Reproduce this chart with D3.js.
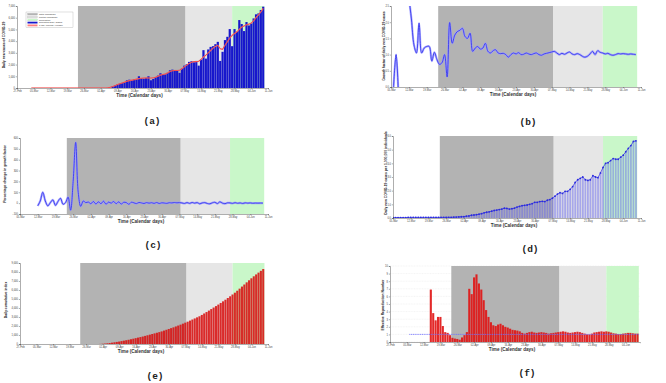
<!DOCTYPE html>
<html>
<head>
<meta charset="utf-8">
<script src="https://cdn.jsdelivr.net/npm/d3@7"></script>
<style>
  body { margin: 0; background: #fff; }
  svg { display: block; font-family: "Liberation Sans", Arial, sans-serif; }
</style>
</head>
<body>
<svg id="chart" width="666" height="383"></svg>
<script>
// day 0 of every series
var startDate = new Date(2020, 1, 27);

var tickLabels = ["27-Feb", "05-Mar", "12-Mar", "19-Mar", "26-Mar", "02-Apr", "09-Apr", "16-Apr",
  "23-Apr", "30-Apr", "07-May", "14-May", "21-May", "28-May", "04-Jun", "11-Jun"];

// phase boundaries, in days after startDate
var phaseNames = ["Total Lockdown", "Partial Lockdown", "Relaxation"];
var phaseBounds = [25.5, 70.5, 90, 103.5];

// (a) reported daily cases, from day 40
var casesStart = 40;
var dailyCases = [140, 200, 310, 370, 430, 510, 660, 710, 660, 710, 770, 1000, 830, 800, 860, 1000,
  660, 770, 940, 1060, 1260, 1170, 1170, 1290, 1510, 1570, 1510, 1460, 1290, 1660, 1910, 2030,
  2230, 2290, 2200, 2310, 1910, 2430, 3230, 2510, 3290, 3510, 3570, 3740, 3940, 2310, 3090, 4090,
  4370, 5030, 3570, 5030, 4800, 5800, 5460, 4860, 5630, 5340, 5510, 5940, 6290, 6370, 6660, 6940];

// (a) 7-day moving average, from day 6
var avgStart = 6;
var movingAvg = [0, 0, 0, 0, 0, 0, 0, 0, 0, 0, 0, 0, 0, 0, 0, 0, 0, 0, 0, 0, 0, 0, 0, 0, 0, 0, 0, 0, 0, 0, 0, 0,
  20, 60, 120, 200, 290, 360, 430, 500, 570, 630, 670, 710, 760, 800, 830, 850, 860, 860, 850, 870,
  920, 1010, 1100, 1150, 1200, 1290, 1400, 1470, 1500, 1500, 1520, 1650, 1800, 1950, 2100, 2200,
  2250, 2250, 2280, 2450, 2650, 2800, 3000, 3200, 3400, 3550, 3650, 3350, 3300, 3650, 3950, 4250,
  4500, 4650, 4800, 5000, 5200, 5300, 5400, 5450, 5550, 5750, 6000, 6250, 6500, 6800];

// (b) growth factor, from day 8
var growthStart = 8;
var growthFactor = [0.0, 1.0, -0.4, null, null, 3.8, 2.8, 2.1, 1.3, 1.05, 1.97, 1.05, 1.2, 1.25, 1.25,
  0.8, 1.07, 0.85, 0.7, 0.75, 1.0, 0.31, 1.99, 1.35, 1.6, 1.71, 1.75, 1.81, 1.56, 1.5, 1.66, 1.1,
  1.2, 1.25, 1.17, 1.2, 1.35, 1.1, 1.05, 1.12, 1.15, 1.05, 1.03, 1.04, 1.0, 0.92, 1.0, 1.05, 1.02,
  1.06, 1.0, 1.01, 1.05, 1.02, 1.0, 1.03, 1.05, 1.0, 0.98, 1.02, 1.04, 1.06, 1.08, 1.1, 1.05, 1.0,
  1.04, 1.01, 1.05, 1.08, 1.02, 1.0, 1.03, 1.0, 0.95, 0.92, 0.95, 1.02, 1.1, 1.0, 1.12, 1.07, 1.05,
  1.02, 1.04, 1.0, 0.98, 1.0, 1.03, 1.02, 1.03, 1.02, 1.01, 1.02, 1.01, 1.0];

// (c) percentage change in growth factor, from day 14
var pctStart = 14;
var pctChange = [-25, 20, 100, 20, -25, 5, 30, -20, 15, 45, -10, 5, 55, -65, 200, 560, 100, -30, 20, 5,
  10, -5, 15, -8, 12, -5, 18, -10, 10, 0, 15, -5, 12, -8, 8, 5, -10, 8, 3, -4, 6, 2, -3, 5, 0,
  4, -2, 6, -3, 3, 1, -2, 4, 2, 6, 3, 5, 2, -3, 5, -2, 6, 0, 5, -6, 2, 5, -3, -6, 3,
  8, -4, 12, 0, -5, 3, 2, -2, 4, -1, 2, -3, 3, 0, 2, -1, 1, 0, 1, 0];

// (d) daily new cases per 1,000,000, from day 7
var perMillionStart = 7;
var perMillion = [0.03, 0.03, 0.03, 0.03, 0.03, 0.03, 0.04, 0.04, 0.04, 0.04, 0.04, 0.04, 0.04, 0.04,
  0.04, 0.04, 0.04, 0.04, 0.04, 0.04, 0.04, 0.05, 0.05, 0.05,
  0.06, 0.07, 0.08, 0.09, 0.1, 0.13, 0.15, 0.2, 0.22, 0.24, 0.28, 0.32, 0.38, 0.42, 0.45, 0.5, 0.55,
  0.58, 0.62, 0.65, 0.72, 0.7, 0.65, 0.68, 0.72, 0.8, 0.85, 0.9, 0.93, 0.95, 1.0, 1.05, 1.15, 1.15,
  1.2, 1.22, 1.2, 1.3, 1.35, 1.45, 1.6, 1.75, 1.85, 1.8, 1.95, 1.95, 2.1, 2.3, 2.6, 2.8, 2.9, 3.0,
  2.8, 2.75, 2.8, 3.1, 3.0, 2.95, 3.3, 3.7, 4.0, 4.05, 4.2, 4.35, 4.3, 4.3, 4.45, 4.6, 4.85, 5.1,
  5.3, 5.6, 5.65];

// (e) daily cumulative index, from day 34
var cumStart = 34;
var cumulative = [10, 30, 50, 80, 110, 150, 190, 230, 270, 320, 370, 420, 470, 530, 590, 650, 710, 770,
  830, 900, 970, 1040, 1110, 1180, 1250, 1320, 1400, 1490, 1580, 1670, 1760, 1850, 1950, 2050,
  2150, 2260, 2370, 2480, 2600, 2720, 2840, 2960, 3080, 3230, 3390, 3550, 3710, 3880, 4050, 4210,
  4380, 4560, 4740, 4920, 5110, 5300, 5500, 5700, 5920, 6150, 6380, 6610, 6850, 7080, 7300, 7520,
  7730, 7930, 8130, 8330];

// (f) effective reproduction number, from day 17
var rtStart = 17;
var rt = [6.9, 3.8, 2.85, 3.3, 3.3, 2.1, 1.3, 1.2, 0.9, 0.55, 0.45, 0.4, 0.3, 0.6, 0.9, 1.3, 7.0, 6.3,
  8.5, 8.9, 7.7, 6.9, 5.5, 4.2, 3.3, 2.6, 2.2, 2.1, 2.3, 2.4, 2.2, 2.0, 1.9, 1.75, 1.6, 1.55, 1.5,
  1.4, 1.2, 1.1, 1.2, 1.3, 1.35, 1.25, 1.2, 1.25, 1.3, 1.25, 1.2, 1.1, 1.15, 1.2, 1.25, 1.3, 1.35,
  1.4, 1.35, 1.25, 1.2, 1.25, 1.3, 1.35, 1.3, 1.2, 1.1, 1.0, 1.0, 1.1, 1.25, 1.3, 1.35, 1.4, 1.35,
  1.4, 1.35, 1.25, 1.15, 1.1, 1.05, 1.05, 1.1, 1.15, 1.2, 1.2, 1.15, 1.1, 1.1];
var rtThreshold = 1;
var rtThresholdFrom = 8;

var yTicksA = [0, 1000, 2000, 3000, 4000, 5000, 6000, 7000];
var yTicksB = [0, 0.5, 1, 1.5, 2, 2.5];
var yTicksC = [-100, 0, 100, 200, 300, 400, 500, 600];
var yTicksD = [0, 1, 2, 3, 4, 5, 6];
var yTicksE = [0, 1000, 2000, 3000, 4000, 5000, 6000, 7000, 8000, 9000];
var yTicksF = [0, 1, 2, 3, 4, 5, 6, 7, 8, 9, 10];

var phaseColors = ["#b3b3b3", "#e6e6e6", "#c9f7c9"];

var svg = d3.select("#chart");
var parseTick = d3.timeParse("%d-%b-%Y");
var tickDates = tickLabels.map(function(t) { return parseTick(t + "-2020"); });

function dayDate(n) { return d3.timeHour.offset(startDate, Math.round(n * 24)); }

function toPoints(first, values) {
  return values.map(function(v, i) { return {day: first + i, v: v}; });
}

// draws frame, phases and axes for one panel and returns its scales
function panel(p) {
  var x = d3.scaleTime().domain([dayDate(p.d0), dayDate(p.d1)]).range([p.left, p.right]);
  var y = d3.scaleLinear().domain([p.yTicks[0], p.yTicks[p.yTicks.length - 1]]).range([p.bottom, p.top]);
  var g = svg.append("g");

  svg.append("clipPath").attr("id", "clip-" + p.id)
    .append("rect")
    .attr("x", p.left).attr("y", p.top)
    .attr("width", p.right - p.left).attr("height", p.bottom - p.top);

  if (p.grid) {
    g.selectAll(".grid").data(p.yTicks).enter().append("line")
      .attr("x1", p.left).attr("x2", p.right)
      .attr("y1", function(d) { return y(d); }).attr("y2", function(d) { return y(d); })
      .attr("stroke", "#e4e4e4").attr("stroke-width", 0.4).attr("stroke-dasharray", "1,0.6");
  }

  g.selectAll(".phase").data(phaseColors).enter().append("rect")
    .attr("x", function(d, i) { return x(dayDate(phaseBounds[i])); })
    .attr("y", p.top)
    .attr("width", function(d, i) { return x(dayDate(phaseBounds[i + 1])) - x(dayDate(phaseBounds[i])); })
    .attr("height", p.bottom - p.top)
    .attr("fill", function(d) { return d; });

  var marks = svg.append("g").attr("clip-path", "url(#clip-" + p.id + ")");

  var ticks = tickDates.filter(function(d) { return d >= x.domain()[0] && d <= x.domain()[1]; });
  var ax = svg.append("g")
    .attr("transform", "translate(0," + p.bottom + ")")
    .call(d3.axisBottom(x).tickValues(ticks).tickFormat(d3.timeFormat("%d-%b")).tickSize(1.2).tickPadding(0.6));
  var ay = svg.append("g")
    .attr("transform", "translate(" + p.left + ",0)")
    .call(d3.axisLeft(y).tickValues(p.yTicks).tickSize(1.2).tickPadding(0.8));
  [ax, ay].forEach(function(a) {
    a.attr("font-size", 2.6).attr("font-family", "Liberation Sans, Arial, sans-serif");
    a.selectAll("path, line").attr("stroke", "#333").attr("stroke-width", 0.4);
    a.selectAll("text").attr("fill", "#444");
  });

  svg.append("text")
    .attr("x", (p.left + p.right) / 2 - 3).attr("y", p.bottom + 8.6)
    .attr("text-anchor", "middle").attr("font-size", 4.6).attr("font-weight", "bold").attr("fill", "#333")
    .text("Time (Calendar days)");

  svg.append("text")
    .attr("transform", "translate(" + p.ylabX + "," + p.ylabY + ") rotate(-90)")
    .attr("text-anchor", "middle").attr("font-size", 3.4).attr("font-weight", "bold").attr("fill", "#222")
    .text(p.ylab);

  svg.append("text")
    .attr("x", p.capX).attr("y", p.capY)
    .attr("text-anchor", "middle")
    .attr("font-family", "Liberation Mono, DejaVu Sans Mono, monospace")
    .attr("font-size", 9.5).attr("font-weight", "bold").attr("fill", "#222")
    .text("(" + p.id + ")");

  return {x: x, y: y, marks: marks};
}

function drawBars(s, pts, fill, opacity, gap) {
  s.marks.append("g").selectAll("rect").data(pts).enter().append("rect")
    .attr("x", function(d) { return s.x(dayDate(d.day - 0.5 + gap / 2)); })
    .attr("width", function(d) { return s.x(dayDate(d.day + 0.5)) - s.x(dayDate(d.day - 0.5)) - (s.x(dayDate(gap)) - s.x(dayDate(0))); })
    .attr("y", function(d) { return s.y(Math.max(0, d.v)); })
    .attr("height", function(d) { return Math.abs(s.y(0) - s.y(d.v)); })
    .attr("fill", fill).attr("fill-opacity", opacity);
}

function drawLine(s, pts, color, width, curve) {
  var line = d3.line()
    .defined(function(d) { return d.v != null; })
    .x(function(d) { return s.x(dayDate(d.day)); })
    .y(function(d) { return s.y(d.v); })
    .curve(curve || d3.curveLinear);
  return s.marks.append("path").datum(pts)
    .attr("d", line).attr("fill", "none")
    .attr("stroke", color).attr("stroke-width", width).attr("stroke-linejoin", "round");
}

// (a)
var sa = panel({id: "a", left: 17, right: 268, top: 6, bottom: 88, d0: 0, d1: 105, yTicks: yTicksA,
  ylab: "Daily new cases of COVID-19", ylabX: 5, ylabY: 45, capX: 152, capY: 124});
drawBars(sa, toPoints(casesStart, dailyCases), "#1717cc", 1, 0.1);
drawLine(sa, toPoints(avgStart, movingAvg), "#ff7a7a", 1.1);
drawLine(sa, toPoints(avgStart, movingAvg), "#e01010", 0.45);

var legend = svg.append("g").attr("transform", "translate(26,12)");
legend.append("rect").attr("width", 47).attr("height", 15.5)
  .attr("fill", "#fff").attr("stroke", "#999").attr("stroke-width", 0.3);
var legendItems = phaseNames.concat(["Reported Daily Cases", "7-day Moving Average"]);
var legendColors = phaseColors.concat(["#1717cc", "#ff8080"]);
legendItems.forEach(function(name, i) {
  legend.append("rect").attr("x", 1.5).attr("y", 1.3 + i * 2.8).attr("width", 10).attr("height", 1.8)
    .attr("fill", legendColors[i]).attr("stroke", i < 3 ? "#aaa" : "none").attr("stroke-width", 0.2);
  legend.append("text").attr("x", 13).attr("y", 2.9 + i * 2.8)
    .attr("font-size", 2.4).attr("fill", "#333").text(name);
});

// (b)
var sb = panel({id: "b", left: 391, right: 641, top: 6, bottom: 87, d0: 7, d1: 105, yTicks: yTicksB,
  ylab: "Growth factor of daily new COVID-19 cases", ylabX: 385, ylabY: 46, capX: 528, capY: 125});
drawLine(sb, toPoints(growthStart, growthFactor), "#9a9aff", 2.2, d3.curveCatmullRom).attr("stroke-opacity", 0.8);
drawLine(sb, toPoints(growthStart, growthFactor), "#3a3aee", 0.9, d3.curveCatmullRom);

// (c)
var sc = panel({id: "c", left: 20, right: 268, top: 138, bottom: 214, d0: 7, d1: 105, yTicks: yTicksC,
  ylab: "Percentage change in growth factor", ylabX: 6, ylabY: 174, capX: 153, capY: 248});
drawLine(sc, toPoints(pctStart, pctChange), "#9a9aff", 2.2, d3.curveCatmullRom).attr("stroke-opacity", 0.8);
drawLine(sc, toPoints(pctStart, pctChange), "#3a3aee", 0.9, d3.curveCatmullRom);

// (d)
var sd = panel({id: "d", left: 393, right: 641, top: 136, bottom: 218, d0: 7, d1: 105, yTicks: yTicksD,
  ylab: "Daily new COVID-19 cases per 1,000,000 individuals", ylabX: 387, ylabY: 173, capX: 530, capY: 252});
var ptsD = toPoints(perMillionStart, perMillion);
drawBars(sd, ptsD, "#5c5cf0", 0.45, 0.3);
drawLine(sd, ptsD, "#2a2ae0", 0.7);
sd.marks.append("g").selectAll("circle").data(ptsD).enter().append("circle")
  .attr("cx", function(d) { return sd.x(dayDate(d.day)); })
  .attr("cy", function(d) { return sd.y(d.v); })
  .attr("r", 0.9).attr("fill", "#2a2ae0");

// (e)
var se = panel({id: "e", left: 20, right: 268, top: 263, bottom: 344, d0: 0, d1: 105, yTicks: yTicksE,
  ylab: "Daily cumulative index", ylabX: 7, ylabY: 300, capX: 155, capY: 379});
drawBars(se, toPoints(cumStart, cumulative), "#d81010", 0.88, 0.12);

// (f)
var sf = panel({id: "f", left: 390, right: 640, top: 266, bottom: 342, d0: 0, d1: 104, yTicks: yTicksF, grid: true,
  ylab: "Effective Reproduction Number", ylabX: 384, ylabY: 305, capX: 527, capY: 376});
drawBars(sf, toPoints(rtStart, rt), "#e01212", 0.9, 0.12);
sf.marks.append("line")
  .attr("x1", sf.x(dayDate(rtThresholdFrom))).attr("x2", sf.x(dayDate(phaseBounds[3])))
  .attr("y1", sf.y(rtThreshold)).attr("y2", sf.y(rtThreshold))
  .attr("stroke", "#7070ff").attr("stroke-width", 0.8).attr("stroke-dasharray", "1.2,0.6");
</script>
</body>
</html>
